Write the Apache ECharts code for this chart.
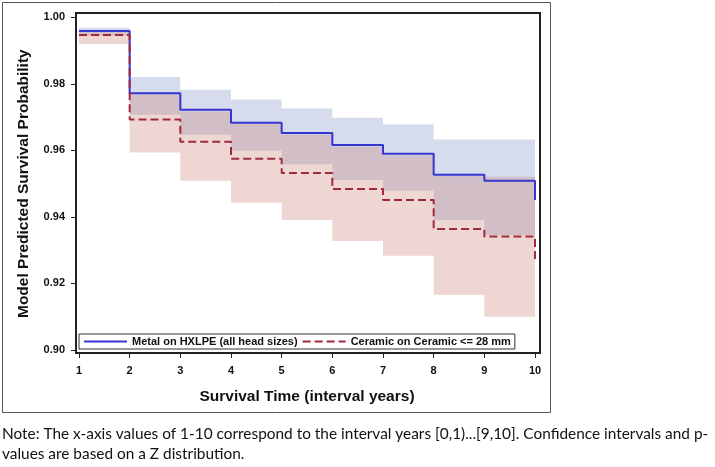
<!DOCTYPE html>
<html>
<head>
<meta charset="utf-8">
<script src="https://cdn.jsdelivr.net/npm/echarts@6/dist/echarts.min.js"></script>
<style>
html,body{margin:0;padding:0;background:#fff;}
#chart{width:715px;height:467px;}
</style>
</head>
<body>
<div id="chart"></div>
<script>
// ---- data ----
const years = [1, 2, 3, 4, 5, 6, 7, 8, 9, 10];
const metalEst   = [0.9959, 0.9772, 0.9722, 0.9683, 0.9652, 0.9616, 0.9590, 0.9527, 0.9509, 0.9451];
const metalUpper = [0.9969, 0.9821, 0.9782, 0.9753, 0.9726, 0.9698, 0.9678, 0.9633, 0.9633];
const metalLower = [0.9945, 0.9707, 0.9647, 0.9600, 0.9558, 0.9511, 0.9479, 0.9391, 0.9346];
const ceramicEst   = [0.9947, 0.9693, 0.9626, 0.9575, 0.9532, 0.9484, 0.9451, 0.9364, 0.9341, 0.9263];
const ceramicUpper = [0.9962, 0.9768, 0.9717, 0.9679, 0.9648, 0.9612, 0.9585, 0.9522, 0.9521];
const ceramicLower = [0.9920, 0.9594, 0.9509, 0.9443, 0.9391, 0.9328, 0.9283, 0.9166, 0.9100];
const seriesNames = ['Metal on HXLPE (all head sizes)', 'Ceramic on Ceramic <= 28 mm'];
const yTicks = [0.90, 0.92, 0.94, 0.96, 0.98, 1.00];
const xTitle = 'Survival Time (interval years)';
const yTitle = 'Model Predicted Survival Probability';
const noteLines = [
  'Note: The x-axis values of 1-10 correspond to the interval years [0,1)...[9,10]. Confidence intervals and p-',
  'values are based on a Z distribution.'
];

const pairs = (ys) => years.map((x, i) => [x, ys[i]]);
// band cells: [interval start, interval end, lower, upper]
const cells = (lower, upper) => lower.map((lo, i) => [years[i], years[i + 1], lo, upper[i]]);

const chart = echarts.init(document.getElementById('chart'), null, {renderer: 'canvas'});
const FONT = '"Liberation Sans", Arial, sans-serif';

function band(lower, upper, color) {
  return {
    type: 'custom', silent: true, z: 1,
    data: cells(lower, upper),
    encode: {x: [0, 1], y: [2, 3]},
    renderItem: function (params, api) {
      const p0 = api.coord([api.value(0), api.value(3)]);
      const p1 = api.coord([api.value(1), api.value(2)]);
      return {
        type: 'rect',
        shape: {x: p0[0], y: p0[1], width: p1[0] - p0[0], height: p1[1] - p0[1]},
        style: {fill: color}
      };
    }
  };
}

const option = {
  animation: false,
  backgroundColor: '#fff',
  grid: {left: 79, top: 17.33, width: 456, height: 332.67, containLabel: false},
  xAxis: {
    type: 'value', min: 1, max: 10, interval: 1, offset: 3,
    axisLine: {show: false},
    axisTick: {show: true, length: 5, lineStyle: {color: '#222', width: 1}},
    splitLine: {show: false},
    axisLabel: {color: '#111', fontSize: 11, fontWeight: 'bold', fontFamily: FONT, margin: 12},
    name: xTitle, nameLocation: 'middle', nameGap: 36,
    nameTextStyle: {color: '#111', fontSize: 15.5, fontWeight: 'bold', fontFamily: FONT}
  },
  yAxis: {
    type: 'value', min: yTicks[0], max: yTicks[yTicks.length - 1], interval: 0.02, offset: 3,
    axisLine: {show: false},
    axisTick: {show: true, length: 5, lineStyle: {color: '#222', width: 1}},
    splitLine: {show: false},
    axisLabel: {color: '#111', fontSize: 11, fontWeight: 'bold', fontFamily: FONT, margin: 11,
                formatter: (v) => v.toFixed(2)},
    name: yTitle, nameLocation: 'middle', nameGap: 44, nameRotate: 90,
    nameTextStyle: {color: '#111', fontSize: 15.5, fontWeight: 'bold', fontFamily: FONT}
  },
  legend: {
    data: seriesNames,
    left: 79, top: 334,
    padding: [2, 4, 2, 4], itemGap: 4, itemWidth: 43, itemHeight: 12,
    borderColor: '#333', borderWidth: 1, backgroundColor: '#fff',
    itemStyle: {color: 'rgba(0,0,0,0)', borderWidth: 0, opacity: 0},
    textStyle: {color: '#111', fontSize: 11, fontWeight: 'bold', fontFamily: FONT},
    selectedMode: false
  },
  series: [
    band(metalLower, metalUpper, 'rgba(131,149,203,0.33)'),
    band(ceramicLower, ceramicUpper, 'rgba(203,131,119,0.33)'),
    {name: seriesNames[0], type: 'line', step: 'end', data: pairs(metalEst), symbol: 'none',
     lineStyle: {color: '#3535cf', width: 2}, itemStyle: {color: '#3535cf'}, z: 3},
    {name: seriesNames[1], type: 'line', step: 'end', data: pairs(ceramicEst), symbol: 'none',
     lineStyle: {color: '#a3283d', width: 2, type: [8, 4]}, itemStyle: {color: '#a3283d'}, z: 3}
  ],
  graphic: [
    {type: 'rect', shape: {x: 2.5, y: 2.5, width: 548, height: 410}, style: {fill: null, stroke: '#555', lineWidth: 1}, z: 0, silent: true},
    {type: 'rect', shape: {x: 76, y: 13, width: 464, height: 340}, style: {fill: null, stroke: '#222', lineWidth: 2}, z: 10, silent: true},
    {type: 'text', left: 2, top: 424, style: {text: noteLines.join('\n'), fill: '#111', font: '15.4px Lato, "Open Sans", sans-serif', lineHeight: 20}, silent: true}
  ]
};
chart.setOption(option);
</script>
</body>
</html>
